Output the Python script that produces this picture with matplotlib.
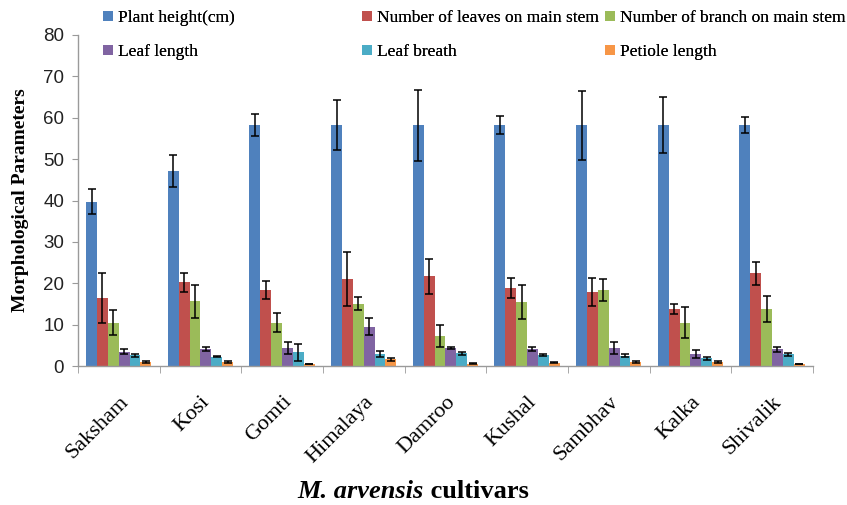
import matplotlib.pyplot as plt
import numpy as np

cultivars = ["Saksham", "Kosi", "Gomti", "Himalaya", "Damroo",
             "Kushal", "Sambhav", "Kalka", "Shivalik"]

plant_height = [39.7, 47.1, 58.2, 58.2, 58.2, 58.2, 58.2, 58.2, 58.2]
plant_height_err = [3.0, 3.9, 2.7, 6.0, 8.6, 2.2, 8.3, 6.8, 2.0]

leaves = [16.4, 20.2, 18.4, 21.1, 21.7, 18.9, 17.9, 13.8, 22.4]
leaves_err = [6.1, 2.4, 2.1, 6.5, 4.2, 2.4, 3.4, 1.3, 2.8]

branches = [10.5, 15.7, 10.5, 15.1, 7.3, 15.5, 18.4, 10.5, 13.8]
branches_err = [3.0, 4.0, 2.2, 1.6, 2.7, 4.2, 2.6, 3.8, 3.2]

leaf_length = [3.5, 4.1, 4.3, 9.5, 4.4, 4.1, 4.4, 2.9, 4.0]
leaf_length_err = [0.6, 0.4, 1.4, 2.1, 0.3, 0.4, 1.4, 0.9, 0.5]

leaf_breath = [2.6, 2.3, 3.3, 3.0, 3.1, 2.7, 2.5, 1.9, 2.8]
leaf_breath_err = [0.4, 0.2, 2.0, 0.7, 0.4, 0.3, 0.3, 0.4, 0.3]

petiole = [1.0, 1.0, 0.5, 1.6, 0.6, 0.8, 0.9, 1.0, 0.55]
petiole_err = [0.2, 0.3, 0.05, 0.4, 0.1, 0.1, 0.2, 0.3, 0.05]

series = [
    ("Plant height(cm)", plant_height, plant_height_err, "#4F81BD"),
    ("Number of leaves on main stem", leaves, leaves_err, "#C0504D"),
    ("Number of branch on main stem", branches, branches_err, "#9BBB59"),
    ("Leaf length", leaf_length, leaf_length_err, "#8064A2"),
    ("Leaf breath", leaf_breath, leaf_breath_err, "#4BACC6"),
    ("Petiole length", petiole, petiole_err, "#F79646"),
]

serif = "Liberation Serif"
sans = "Liberation Sans"

fig = plt.figure(figsize=(8.47, 5.05), dpi=100)
ax = fig.add_axes([0.0921, 0.2752, 0.8677, 0.6555])

x = np.arange(len(cultivars))
width = 0.133
handles = []
for i, (name, vals, errs, color) in enumerate(series):
    pos = x - 0.4 + width * (i + 0.5)
    b = ax.bar(pos, vals, width, color=color, label=name, zorder=2)
    ax.errorbar(pos, vals, yerr=errs, fmt="none", ecolor="black",
                elinewidth=1.1, capsize=3, capthick=1.1, zorder=3)
    handles.append(b)

ax.set_xlim(-0.5, len(cultivars) - 0.5)
ax.set_ylim(0, 80)
ax.set_yticks(range(0, 81, 10))
ax.set_xticks(x)
ax.set_xticklabels(cultivars, rotation=45, ha="right", rotation_mode="anchor",
                   fontfamily=serif, fontsize=16)
ax.set_xticks(np.arange(-0.5, len(cultivars)), minor=True)
ax.tick_params(axis="x", which="major", length=0, pad=19)
ax.tick_params(axis="x", which="minor", length=5, color="#9a9a9a", direction="out")
ax.tick_params(axis="y", length=4, color="#9a9a9a", direction="out", pad=6)
for lab in ax.get_yticklabels():
    lab.set_fontfamily(sans)
    lab.set_fontsize(13.5)
    lab.set_color("#222222")

for side in ("top", "right"):
    ax.spines[side].set_visible(False)
for side in ("left", "bottom"):
    ax.spines[side].set_color("#9a9a9a")
    ax.spines[side].set_linewidth(1.0)

ax.set_ylabel("Morphological Parameters", fontfamily=serif, fontweight="bold",
              fontsize=14, labelpad=10)

# x label with the italic species name followed by plain bold text
t1 = fig.text(0.351, 0.013, "M. arvensis", fontfamily=serif, fontweight="bold",
              fontstyle="italic", fontsize=19, ha="left", va="baseline")
ax.annotate(" cultivars", xy=(1, 0), xycoords=t1, fontfamily=serif,
            fontweight="bold", fontsize=19, ha="left", va="bottom",
            annotation_clip=False)

# three legend columns, two rows each
col_x = [103, 362, 605]
for c in range(3):
    hs = [handles[c], handles[c + 3]]
    leg = fig.legend(hs, [h.get_label() for h in hs], loc="upper left",
                     bbox_to_anchor=(col_x[c] / 847, 1 - 10 / 505),
                     frameon=False, borderpad=0, borderaxespad=0,
                     handlelength=0.55, handleheight=0.55, handletextpad=0.3,
                     labelspacing=1.05, prop={"family": serif, "size": 12.5})
    fig.add_artist(leg)

fig.savefig("out.png", dpi=100)
